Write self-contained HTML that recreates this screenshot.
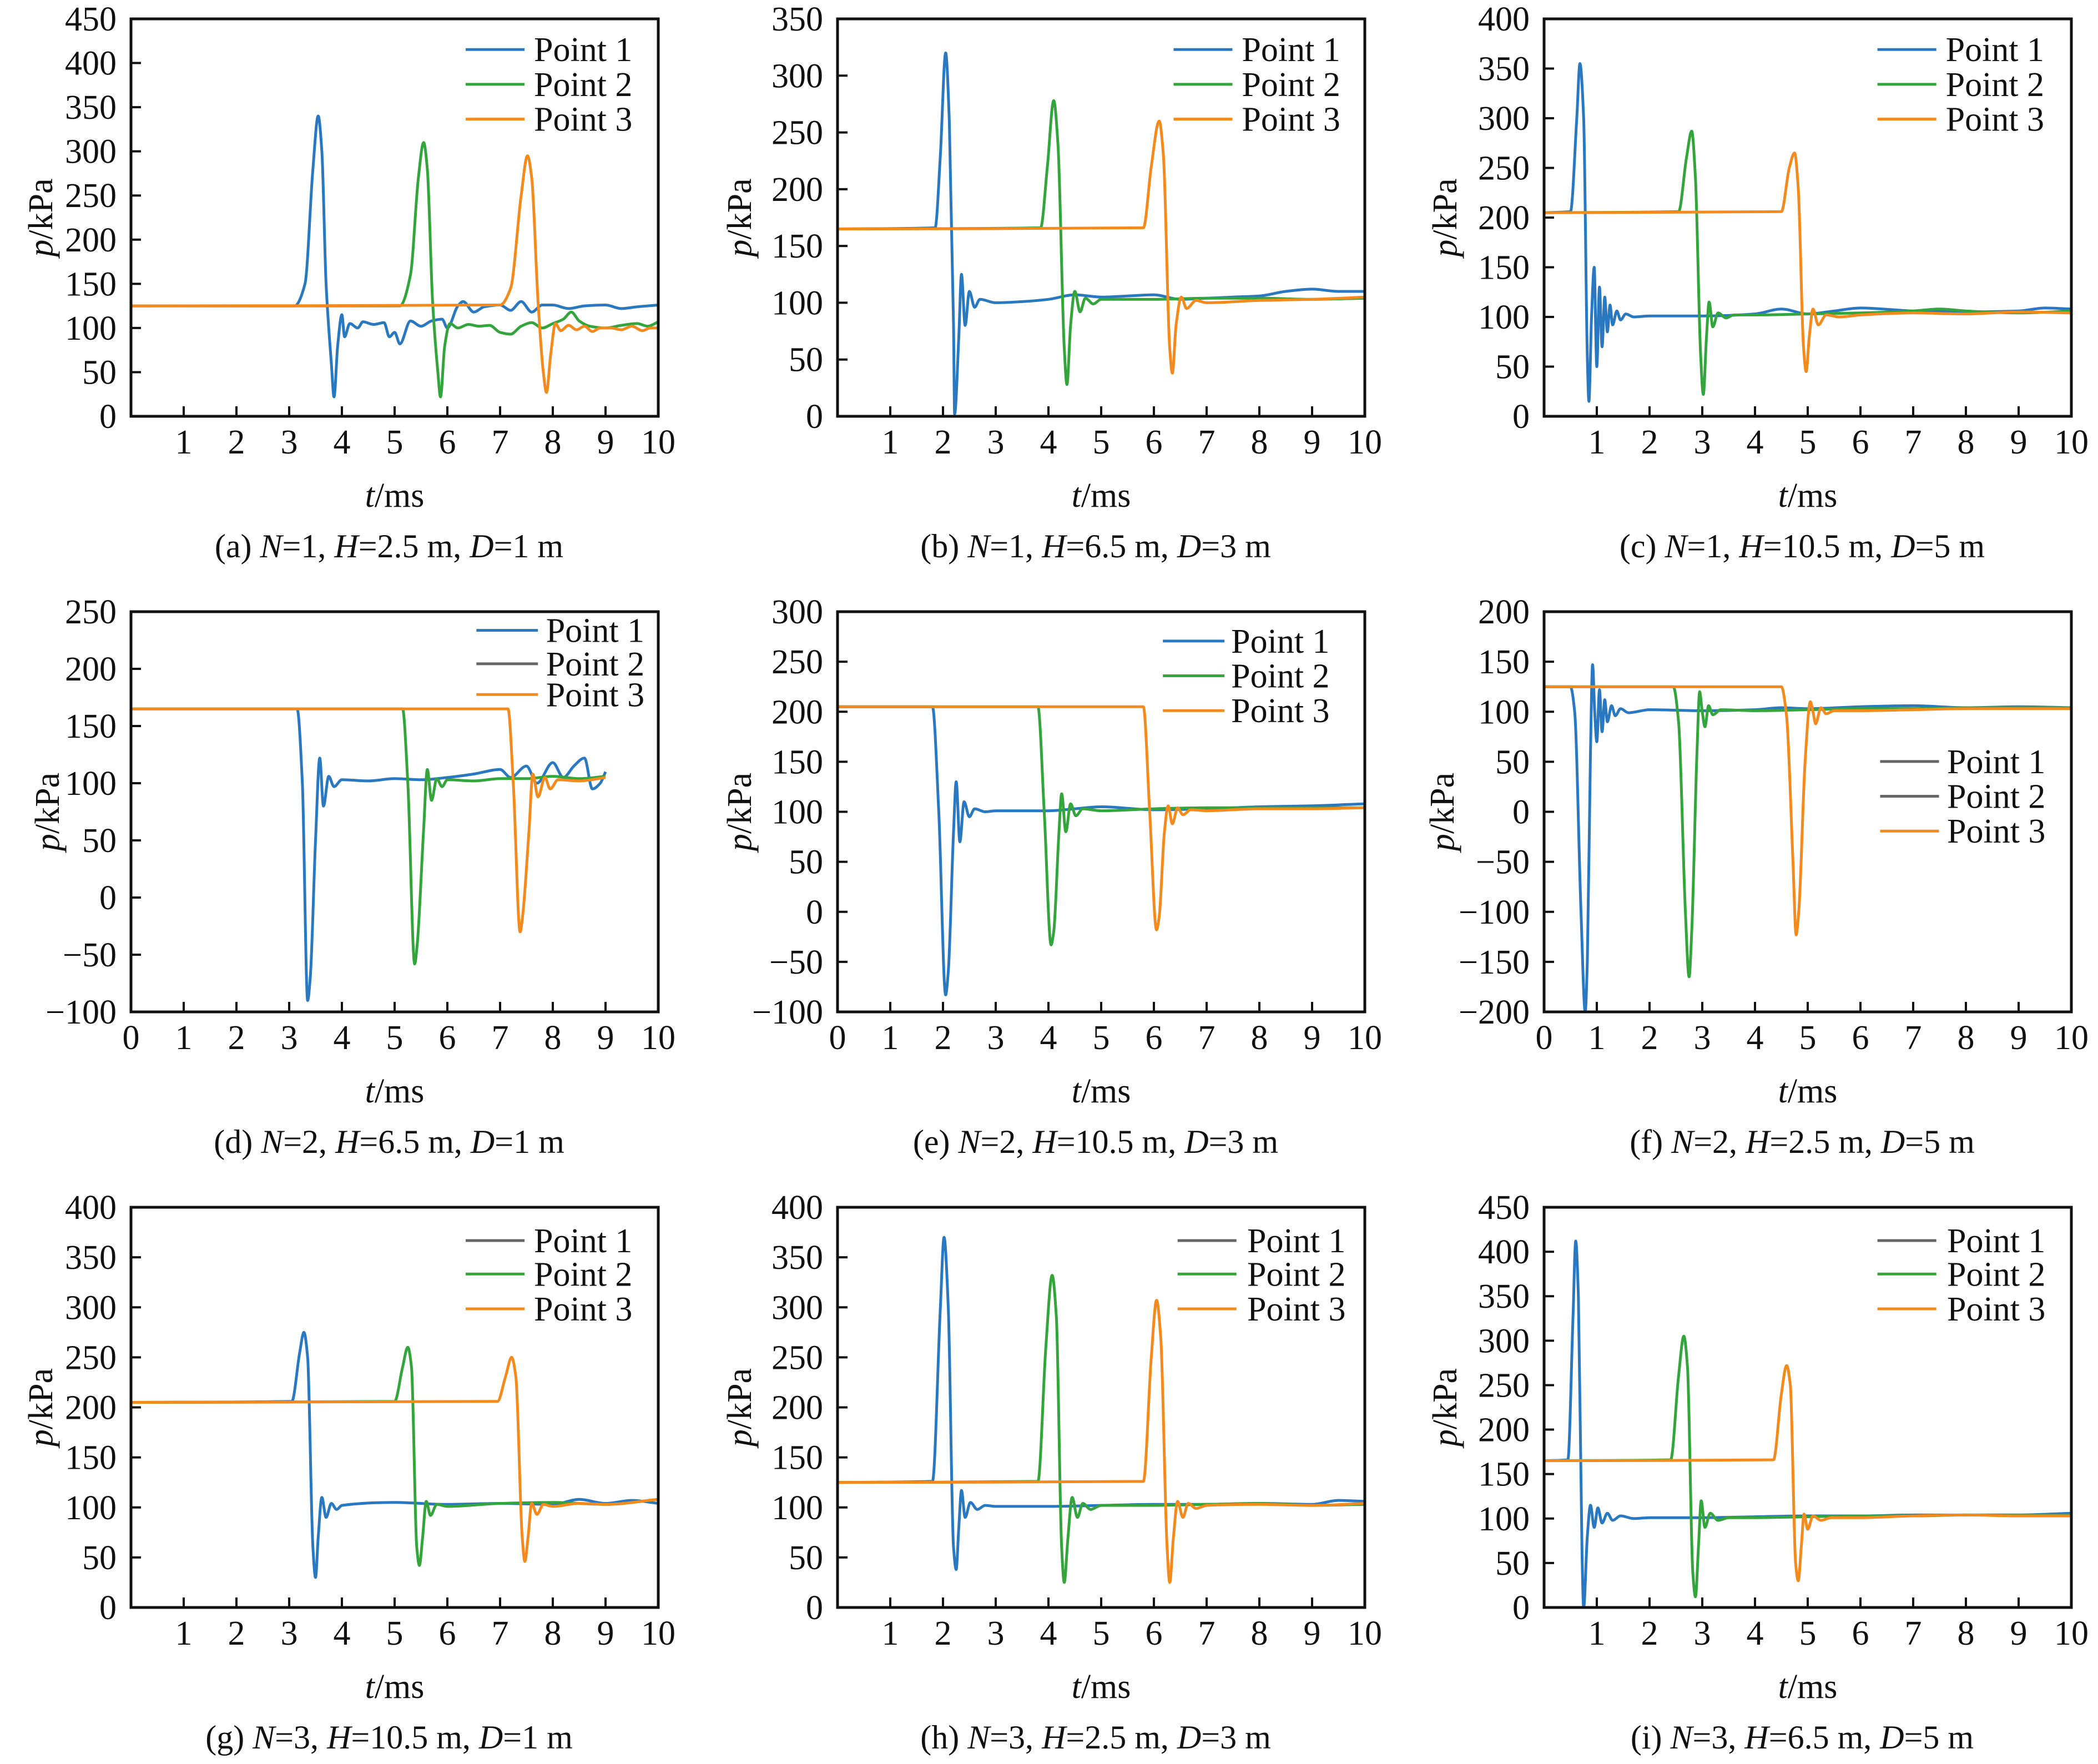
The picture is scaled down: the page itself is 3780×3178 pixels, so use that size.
<!DOCTYPE html>
<html><head><meta charset="utf-8"><style>
html,body{margin:0;padding:0;background:#fff}
svg{display:block}
svg text{font-family:"Liberation Serif","Times New Roman",Times,"Nimbus Roman","DejaVu Serif",serif;fill:#111}
</style></head><body>
<svg id="fig" xmlns="http://www.w3.org/2000/svg" width="3780" height="3178" viewBox="0 0 3780 3178"></svg>
<script>
// ---- data (t in ms, p in kPa) ----
const a_t1=[0,3.1,3.3,3.45,3.55,3.62,3.7,3.8,3.85,3.92,4.0,4.05,4.15,4.3,4.4,4.6,4.8,4.9,5.0,5.1,5.3,5.5,5.7,5.9,6.0,6.2,6.3,6.5,6.7,7.0,7.2,7.4,7.6,7.8,8.0,8.3,8.6,9.0,9.3,9.6,10];
const a_v1=[125,125,150,280,340,300,150,60,22,80,115,90,105,100,107,104,106,90,95,82,108,102,108,110,100,125,130,118,124,126,120,130,118,126,126,122,125,126,122,124,126];
const a_t2=[0,5.1,5.3,5.45,5.55,5.62,5.72,5.82,5.87,5.95,6.05,6.2,6.4,6.6,6.8,7.0,7.2,7.4,7.6,7.8,8.0,8.2,8.35,8.5,8.7,9.0,9.3,9.6,9.8,10];
const a_v2=[125,125,160,270,310,280,130,50,22,80,105,100,104,102,103,95,93,102,106,100,105,110,118,108,102,100,103,105,102,107];
const a_t3=[0,7.0,7.2,7.4,7.52,7.6,7.72,7.82,7.88,7.96,8.05,8.15,8.3,8.45,8.6,8.75,8.9,9.1,9.3,9.5,9.7,9.85,10];
const a_v3=[125,126,145,250,295,270,130,50,27,70,105,97,103,98,102,96,100,100,98,102,97,100,100];

const b_t1=[0,1.85,1.95,2.05,2.12,2.2,2.22,2.3,2.35,2.42,2.5,2.6,2.7,3.0,3.5,4.0,4.5,5.0,5.5,6,6.5,7,7.5,8,8.5,9,9.5,10];
const b_v1=[165,166,230,320,260,80,2,70,125,80,110,96,103,100,101,103,107,105,106,107,103,104,105,106,110,112,110,110];
const b_t2=[0,3.85,3.98,4.1,4.18,4.3,4.35,4.42,4.5,4.6,4.7,4.85,5,6,7,8,9,10];
const b_v2=[165,166,220,278,240,60,28,80,110,92,104,99,103,103,104,104,103,104];
const b_t3=[0,5.8,5.95,6.1,6.18,6.3,6.35,6.42,6.52,6.62,6.8,7,8,9,10];
const b_v3=[165,166,220,260,230,60,38,80,105,95,102,100,102,103,105];

const c_t1=[0,0.5,0.62,0.68,0.75,0.82,0.85,0.9,0.95,1.0,1.05,1.1,1.15,1.2,1.25,1.3,1.38,1.45,1.55,1.7,2,3,4,4.5,5,5.5,6,7,8,9,9.5,10];
const c_v1=[205,206,300,355,300,60,15,100,150,50,130,70,120,85,112,92,106,97,103,100,101,101,103,108,103,106,109,106,105,106,109,108];
const c_t2=[0,2.55,2.7,2.8,2.87,2.97,3.02,3.08,3.13,3.2,3.3,3.45,3.6,4,5,6,7,7.5,8,9,10];
const c_v2=[205,206,260,287,240,60,22,80,115,90,104,99,102,102,103,104,106,108,106,104,106];
const c_t3=[0,4.5,4.65,4.75,4.82,4.92,4.97,5.03,5.1,5.2,5.35,5.6,6,7,8,9,10];
const c_v3=[205,206,250,265,230,70,45,80,108,92,102,100,102,104,103,105,104];

const d_t1=[0,3.15,3.25,3.35,3.4,3.5,3.58,3.65,3.75,3.85,4,4.5,5,5.5,6,6.5,7,7.2,7.5,7.7,8,8.2,8.4,8.6,8.75,8.9,9];
const d_v1=[165,165,100,-90,-70,50,122,80,106,97,103,102,104,103,105,108,112,105,115,100,118,105,115,122,95,100,110];
const d_t2=[0,5.15,5.25,5.38,5.43,5.55,5.62,5.7,5.8,5.9,6,6.5,7,7.5,8,8.5,9];
const d_v2=[165,165,100,-58,-40,60,112,85,104,97,103,102,104,104,106,104,106];
const d_t3=[0,7.15,7.25,7.38,7.43,7.55,7.62,7.72,7.85,7.95,8.1,8.5,9];
const d_v3=[165,165,100,-30,-15,60,108,88,105,95,103,102,105];

const e_t1=[0,1.8,1.92,2.05,2.1,2.2,2.25,2.32,2.4,2.5,2.6,2.8,3,4,4.5,5,6,7,8,9,10];
const e_v1=[205,205,100,-83,-60,80,130,70,110,95,103,100,101,101,103,105,102,103,105,106,108];
const e_t2=[0,3.8,3.92,4.05,4.1,4.2,4.25,4.33,4.42,4.52,4.65,5,6,7,8,9,10];
const e_v2=[205,205,100,-33,-20,80,118,80,108,96,103,101,103,104,104,104,104];
const e_t3=[0,5.8,5.92,6.05,6.1,6.2,6.27,6.35,6.45,6.55,6.7,7,8,9,10];
const e_v3=[205,205,100,-18,-5,80,106,88,104,97,102,101,103,103,104];

const f_t1=[0,0.5,0.58,0.7,0.78,0.82,0.88,0.92,0.96,1.0,1.05,1.1,1.15,1.2,1.28,1.35,1.45,1.6,2,3,4,4.5,5,6,7,8,9,10];
const f_v1=[125,125,100,-100,-200,-150,60,147,100,70,122,80,112,90,106,96,103,99,102,101,102,104,103,105,106,104,105,104];
const f_t2=[0,2.45,2.55,2.68,2.75,2.8,2.9,2.95,3.0,3.05,3.12,3.2,3.35,4,5,6,7,8,9,10];
const f_v2=[125,125,90,-100,-165,-120,60,120,100,85,106,97,102,101,102,103,103,104,104,104];
const f_t3=[0,4.5,4.6,4.72,4.78,4.83,4.95,5.05,5.1,5.15,5.25,5.35,5.5,6,7,8,9,10];
const f_v3=[125,125,95,-50,-123,-100,50,110,100,88,104,98,101,101,102,103,103,103];

const g_t1=[0,3.05,3.2,3.28,3.35,3.45,3.5,3.55,3.62,3.7,3.8,3.9,4,5,6,7,8,8.5,9,9.5,10];
const g_v1=[205,206,255,275,250,60,30,70,110,90,104,98,102,105,103,104,103,108,104,107,104];
const g_t2=[0,5.0,5.15,5.25,5.32,5.42,5.47,5.53,5.6,5.68,5.8,6,7,8,9,10];
const g_v2=[205,206,240,260,240,60,42,70,106,92,103,101,104,105,103,108];
const g_t3=[0,6.95,7.1,7.22,7.3,7.42,7.47,7.53,7.6,7.7,7.82,8,8.5,9,10];
const g_v3=[205,206,230,250,230,70,46,70,104,93,103,101,104,103,108];

const h_t1=[0,1.8,1.95,2.02,2.1,2.2,2.25,2.3,2.35,2.42,2.52,2.65,2.8,3,4,5,6,7,8,9,9.5,10];
const h_v1=[125,126,300,370,300,60,38,80,117,90,105,98,102,101,101,102,103,103,104,103,107,106];
const h_t2=[0,3.8,3.95,4.07,4.15,4.25,4.3,4.37,4.45,4.55,4.65,4.8,5,6,7,8,9,10];
const h_v2=[125,126,260,332,290,60,25,70,110,90,104,98,102,102,103,104,102,103];
const h_t3=[0,5.8,5.95,6.05,6.13,6.25,6.3,6.37,6.45,6.55,6.65,6.8,7,8,9,10];
const h_v3=[125,126,250,307,270,60,25,70,106,90,104,99,102,103,102,104];

const i_t1=[0,0.45,0.55,0.6,0.65,0.72,0.75,0.82,0.88,0.95,1.02,1.1,1.2,1.3,1.45,1.7,2,3,4,5,6,7,8,9,10];
const i_v1=[165,166,330,412,350,60,0,80,115,90,112,95,106,98,103,100,101,101,102,103,103,104,104,104,106];
const i_t2=[0,2.4,2.55,2.65,2.72,2.82,2.87,2.93,2.98,3.05,3.15,3.3,3.5,4,5,6,7,8,9,10];
const i_v2=[165,166,260,305,270,40,12,70,120,90,106,98,101,101,102,103,103,104,104,104];
const i_t3=[0,4.35,4.5,4.6,4.67,4.77,4.82,4.88,4.93,5.0,5.1,5.25,5.45,6,7,8,9,10];
const i_v3=[165,166,240,272,250,50,30,70,105,88,103,98,101,101,103,104,103,103];

const captions=[
 ["(a) ","N","=1, ","H","=2.5 m, ","D","=1 m"],
 ["(b) ","N","=1, ","H","=6.5 m, ","D","=3 m"],
 ["(c) ","N","=1, ","H","=10.5 m, ","D","=5 m"],
 ["(d) ","N","=2, ","H","=6.5 m, ","D","=1 m"],
 ["(e) ","N","=2, ","H","=10.5 m, ","D","=3 m"],
 ["(f) ","N","=2, ","H","=2.5 m, ","D","=5 m"],
 ["(g) ","N","=3, ","H","=10.5 m, ","D","=1 m"],
 ["(h) ","N","=3, ","H","=2.5 m, ","D","=3 m"],
 ["(i) ","N","=3, ","H","=6.5 m, ","D","=5 m"]];
const yMins=[0,0,0,-100,-100,-200,0,0,0];
const yMaxs=[450,350,400,250,300,200,400,400,450];
const seriesNames=["Point 1","Point 2","Point 3"];

// ---- layout ----
const S=2.411;
const COLS=[[236,1186],[1509,2459],[2782,3732]];
const ROWS=[[34,750],[1102,1823],[2175,2896]];
const COLORS=["#2a78bf","#34a43c","#f28a1e"];
const GRAY="#666";
const LEG=[[348,392,399,[37,63,89]],[877,921,928,[37,63,89]],[1403,1447,1454,[37,63,89]],
 [356,402,408,[471,496,519]],[869,915,920,[479,505,531]],[1405,1449,1455,[569,595,621]],
 [348,392,399,[927,952,978]],[880,924,932,[927,952,978]],[1403,1447,1455,[927,952,978]]];
const LEGCOL=[[0,1,2],[0,1,2],[0,1,2],[0,-1,2],[0,1,2],[-1,-1,2],[-1,1,2],[-1,1,2],[-1,1,2]];
const YT_OFF=[162,176,178,150,176,183,162,176,178];
const DATA=[[a_t1,a_v1,a_t2,a_v2,a_t3,a_v3],[b_t1,b_v1,b_t2,b_v2,b_t3,b_v3],[c_t1,c_v1,c_t2,c_v2,c_t3,c_v3],
 [d_t1,d_v1,d_t2,d_v2,d_t3,d_v3],[e_t1,e_v1,e_t2,e_v2,e_t3,e_v3],[f_t1,f_v1,f_t2,f_v2,f_t3,f_v3],
 [g_t1,g_v1,g_t2,g_v2,g_t3,g_v3],[h_t1,h_v1,h_t2,h_v2,h_t3,h_v3],[i_t1,i_v1,i_t2,i_v2,i_t3,i_v3]];
const NS="http://www.w3.org/2000/svg";
const svg=document.getElementById('fig');
function mk(tag,parent,attrs){const e=document.createElementNS(NS,tag);for(const k in attrs)e.setAttribute(k,attrs[k]);parent.appendChild(e);return e;}
function monoPath(xs,ys){
  const n=xs.length;const dx=[],m=[],tg=new Array(n);
  for(let k=0;k<n-1;k++){dx.push(xs[k+1]-xs[k]);m.push((ys[k+1]-ys[k])/(xs[k+1]-xs[k]));}
  tg[0]=m[0];tg[n-1]=m[n-2];
  for(let k=1;k<n-1;k++){
    if(m[k-1]*m[k]<=0)tg[k]=0;
    else{const w1=2*dx[k]+dx[k-1],w2=dx[k]+2*dx[k-1];tg[k]=(w1+w2)/(w1/m[k-1]+w2/m[k]);}
  }
  let d='M'+xs[0].toFixed(1)+','+ys[0].toFixed(1);
  for(let k=0;k<n-1;k++){
    const h=dx[k]/3;
    d+='C'+(xs[k]+h).toFixed(1)+','+(ys[k]+tg[k]*h).toFixed(1)+' '+(xs[k+1]-h).toFixed(1)+','+(ys[k+1]-tg[k+1]*h).toFixed(1)+' '+xs[k+1].toFixed(1)+','+ys[k+1].toFixed(1);
  }
  return d;
}
const letters="abcdefghi";
for(let p=0;p<9;p++){
  const r=Math.floor(p/3),c=p%3;
  const L=COLS[c][0],R=COLS[c][1],T=ROWS[r][0],B=ROWS[r][1];
  const y0=yMins[p],y1=yMaxs[p];
  const X=t=>L+(R-L)*t/10;
  const Y=v=>B-(B-T)*(v-y0)/(y1-y0);
  const g=mk('g',svg,{});
  
  
  const clipId='clip'+p;
  const cp=mk('clipPath',g,{id:clipId});mk('rect',cp,{x:L,y:T,width:R-L,height:B-T});
  const sg=mk('g',g,{'clip-path':'url(#'+clipId+')'});
  for(let s=0;s<3;s++){
    const ts=DATA[p][2*s],vs=DATA[p][2*s+1];
    const d=monoPath(ts.map(X),vs.map(Y));
    const pl=mk('path',sg,{d:d,fill:'none',stroke:COLORS[s],'stroke-width':5,'stroke-linejoin':'round'});
    
    
  }
  const fr=mk('rect',g,{x:L,y:T,width:R-L,height:B-T,fill:'none',stroke:'#111','stroke-width':5});
  
  
  for(let v=y0;v<=y1;v+=50){
    const y=Y(v);
    if(v>y0&&v<y1)mk('line',g,{x1:L,x2:L+18,y1:y,y2:y,stroke:'#111','stroke-width':4});
    const tx=mk('text',g,{x:L-26,y:y+21,'text-anchor':'end','font-size':62});
    tx.textContent=(v<0?'\u2212':'')+Math.abs(v);
    
    
  }
  const showZero=(r===1);
  for(let t=0;t<=10;t++){
    const x=X(t);
    if(t>0&&t<10)mk('line',g,{x1:x,x2:x,y1:B,y2:B-18,stroke:'#111','stroke-width':4});
    if(t===0&&!showZero)continue;
    const tx=mk('text',g,{x:x,y:B+67,'text-anchor':'middle','font-size':62});
    tx.textContent=String(t);
    
    
  }
  const xt=mk('text',g,{x:(L+R)/2,y:B+163,'text-anchor':'middle','font-size':62});
  xt.innerHTML='<tspan font-style="italic">t</tspan>/ms';
  
  
  const ymid=(T+B)/2, yx=L-YT_OFF[p];
  const yt=mk('text',g,{x:yx,y:ymid,'text-anchor':'middle','font-size':62,transform:'rotate(-90 '+yx+' '+ymid+') translate(0 20)'});
  yt.innerHTML='<tspan font-style="italic">p</tspan>/kPa';
  
  
  const cap=mk('text',g,{x:(L+R)/2-10,y:B+254,'text-anchor':'middle','font-size':60});
  cap.innerHTML=captions[p].map((s,k)=>k%2?'<tspan font-style="italic">'+s+'</tspan>':s).join('');
  
  
  const lg=mk('g',g,{});
  
  
  const cfg=LEG[p];
  for(let s=0;s<3;s++){
    const y=cfg[3][s]*S;
    const ci=LEGCOL[p][s];
    mk('line',lg,{x1:cfg[0]*S,x2:cfg[1]*S,y1:y,y2:y,stroke:ci<0?GRAY:COLORS[ci],'stroke-width':5});
    const lt=mk('text',lg,{x:cfg[2]*S,y:y+21,'font-size':62});
    lt.textContent=seriesNames[s];
    
    
  }
}
</script>
</body></html>
